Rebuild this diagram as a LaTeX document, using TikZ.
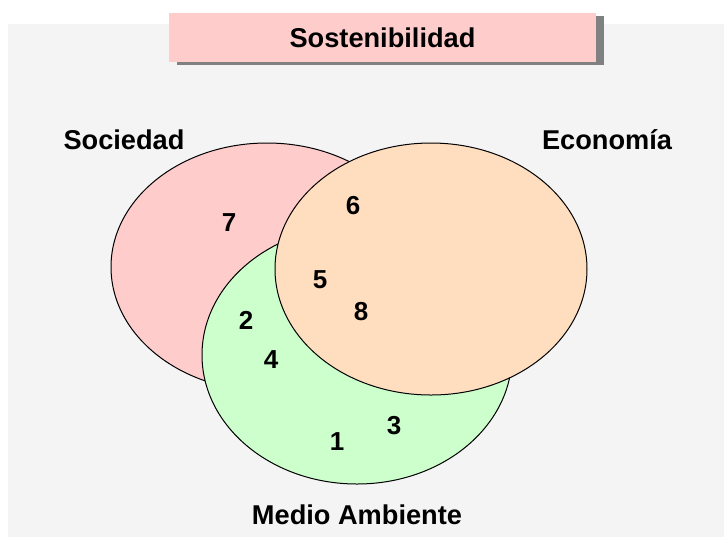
\documentclass[tikz,border=0pt]{standalone}
\usepackage{fontspec}
\setmainfont{Liberation Sans}
\usetikzlibrary{shadows}
\definecolor{bgGray}{HTML}{F4F4F4}
\definecolor{socPink}{HTML}{FFCCCC}
\definecolor{ecoPeach}{HTML}{FFDEC0}
\definecolor{envGreen}{HTML}{CCFFCC}
\tikzset{
  txt/.style={font=\bfseries\fontsize{13.6}{15}\selectfont},
  num/.style={font=\bfseries\fontsize{13}{15}\selectfont},
  area/.style={draw=black, line width=0.5pt}
}
\begin{document}
\begin{tikzpicture}[x=0.5pt, y=-0.5pt]
\useasboundingbox (0,0) rectangle (724,538);
\fill[bgGray] (8,24) rectangle (724,537);
\node[txt, fill=socPink, minimum width=213.5pt, minimum height=24.5pt,
  drop shadow={shadow xshift=4pt, shadow yshift=-1.5pt, fill=gray, opacity=1}]
  (title) at (382.5,37.5) {Sostenibilidad};
% three circles
\coordinate (soc) at (267,267);
\coordinate (env) at (357,355);
\coordinate (eco) at (431,269);
\draw[area, fill=socPink] (soc) ellipse [x radius=156, y radius=124];
\draw[area, fill=envGreen] (env) ellipse [x radius=155, y radius=129];
\draw[area, fill=ecoPeach] (eco) ellipse [x radius=156, y radius=126];
\node[txt] (sociedad) at (124,140) {Sociedad};
\node[txt] (economia) at (607,140) {Economía};
\node[txt] (medio) at (357,515) {Medio Ambiente};
% numbers
\node[num] (n1) at (337,442) {1};
\node[num] (n2) at (246,320) {2};
\node[num] (n3) at (394,426) {3};
\node[num] (n4) at (271,360) {4};
\node[num] (n5) at (320,280) {5};
\node[num] (n6) at (353,206) {6};
\node[num] (n7) at (229,223) {7};
\node[num] (n8) at (361,312) {8};
\end{tikzpicture}
\end{document}
